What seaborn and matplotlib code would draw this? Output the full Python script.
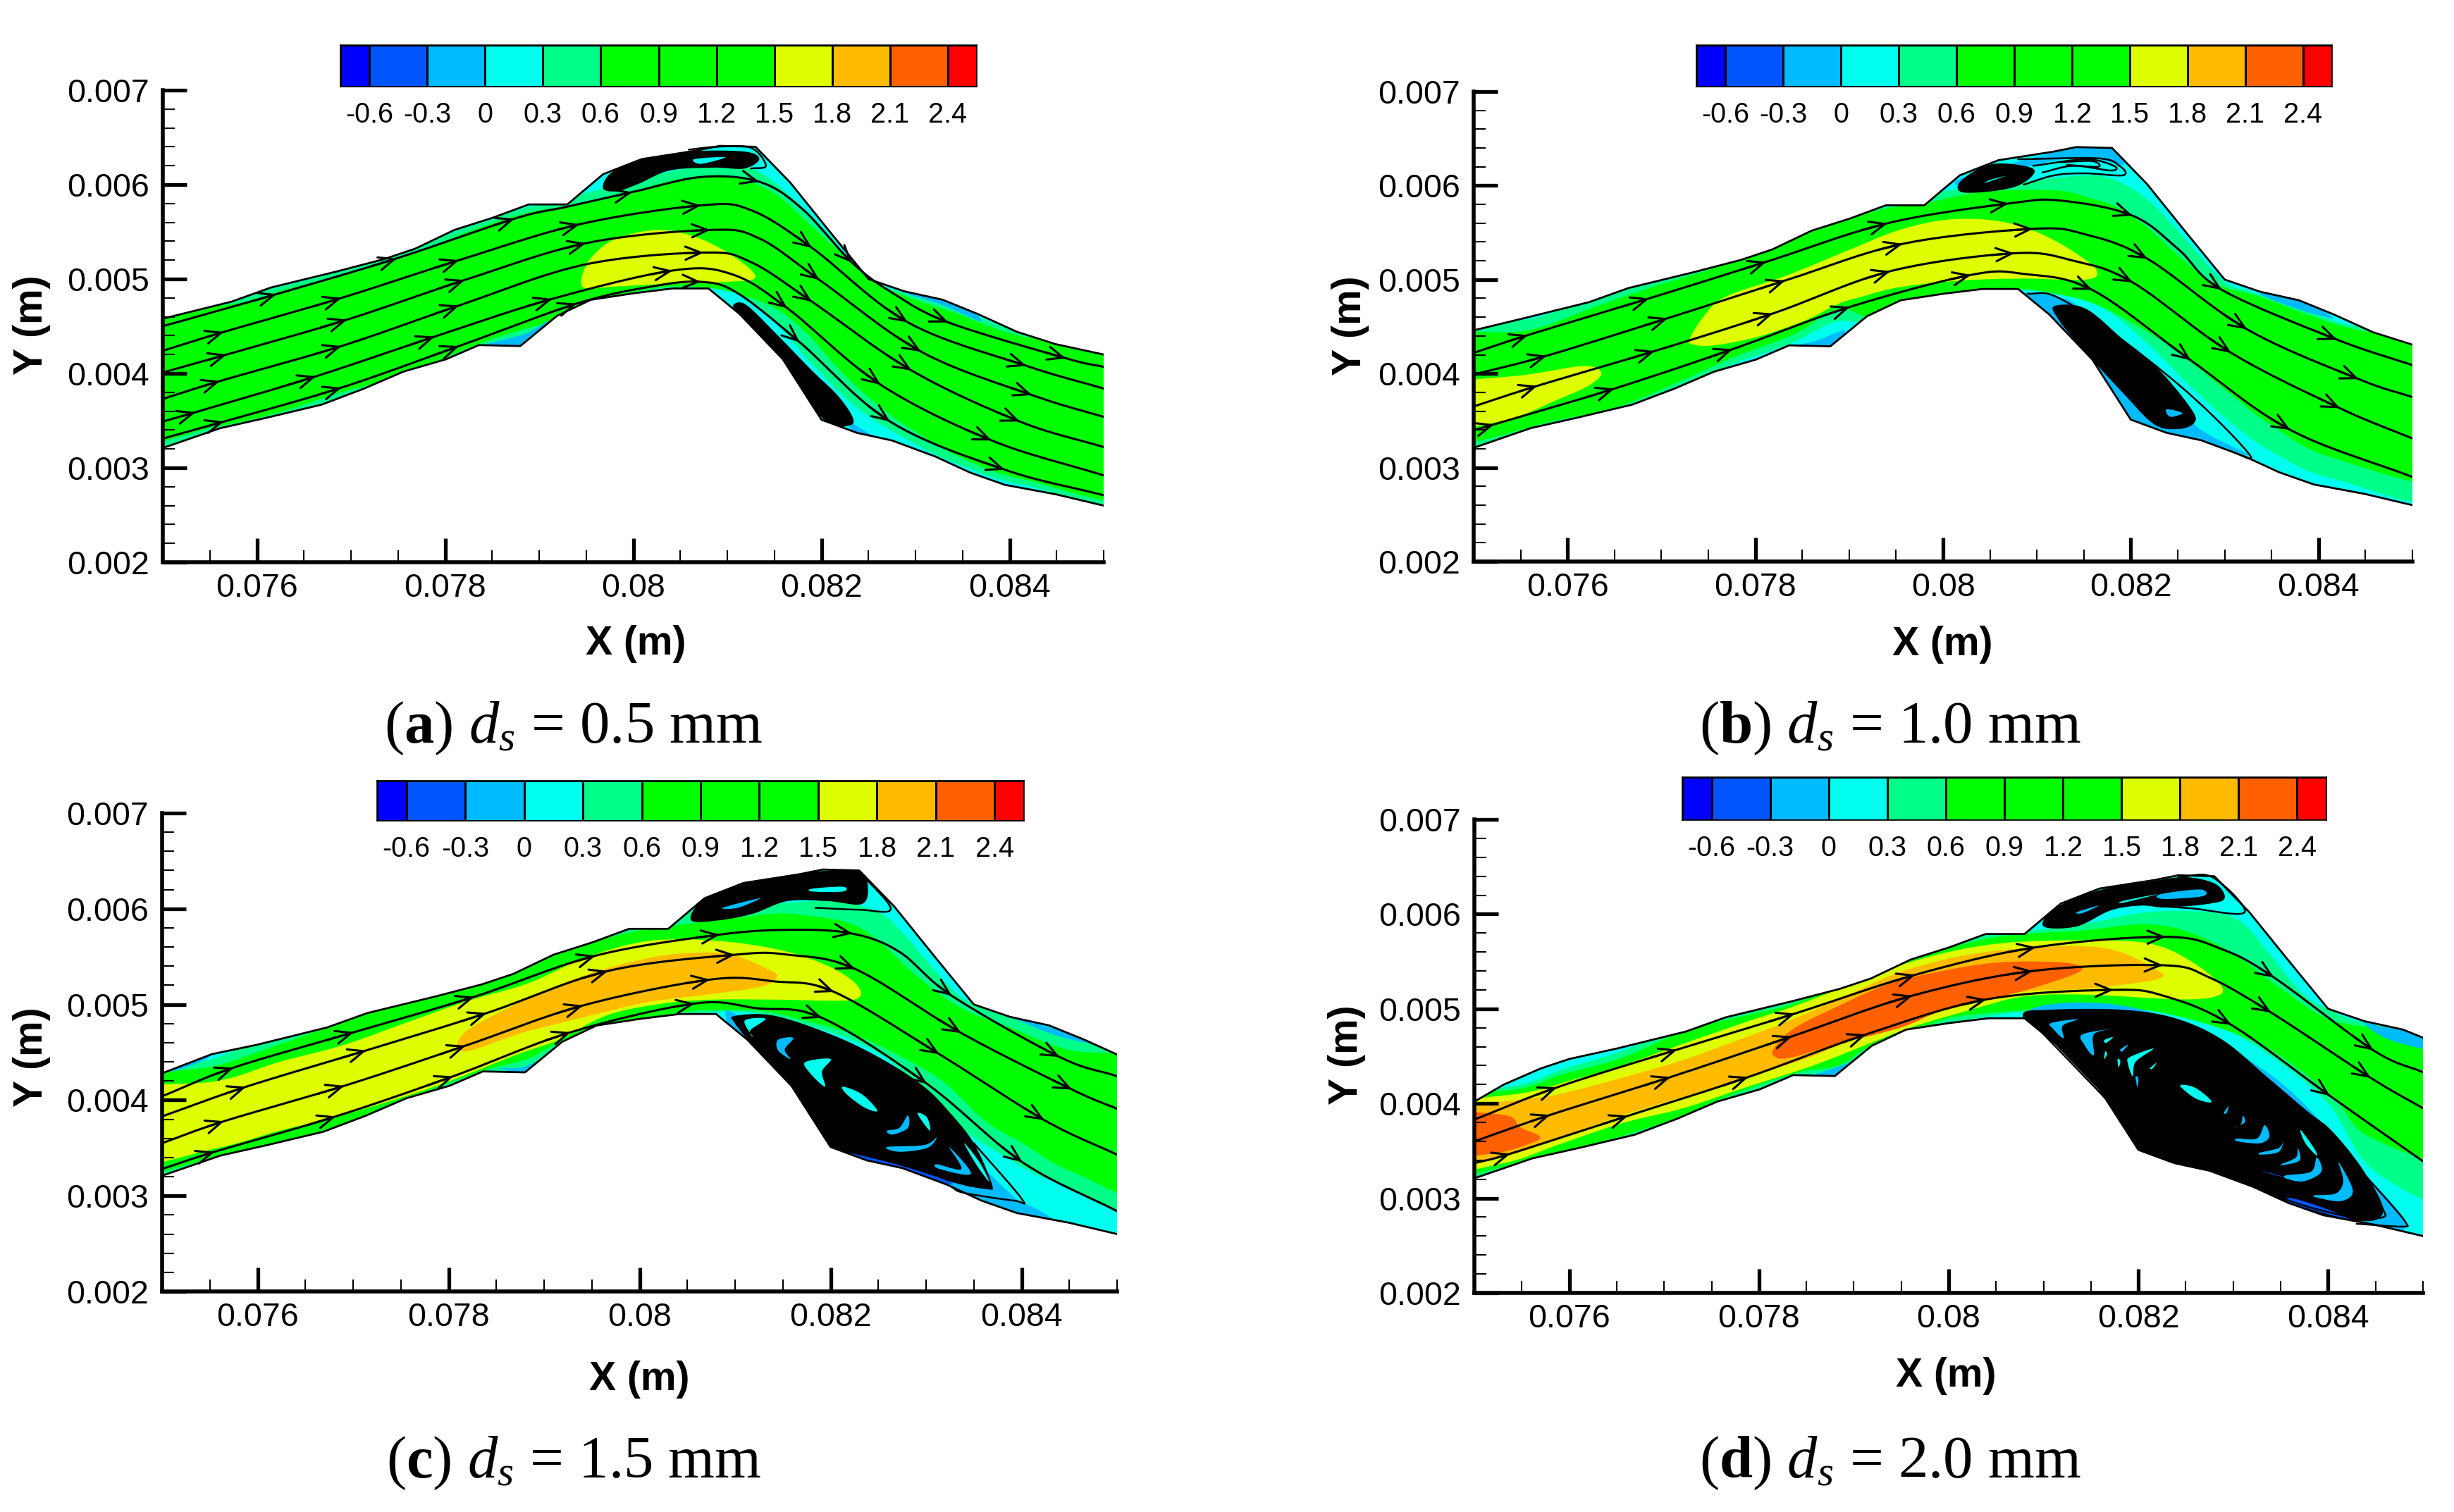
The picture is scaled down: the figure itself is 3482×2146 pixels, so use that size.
import numpy as np
import pandas as pd
import matplotlib
matplotlib.use("Agg")
import matplotlib.pyplot as plt
from matplotlib.colors import ListedColormap, BoundaryNorm
from matplotlib.ticker import MultipleLocator
from matplotlib.patches import Polygon
import seaborn as sns

# ---------------- data (all in mm) ----------------
LEVELS = [-0.75, -0.6, -0.3, 0, 0.3, 0.6, 0.9, 1.2, 1.5, 1.8, 2.1, 2.4, 2.55]
LEVEL_TICKS = [-0.6, -0.3, 0, 0.3, 0.6, 0.9, 1.2, 1.5, 1.8, 2.1, 2.4]
LEVEL_LABELS = ["-0.6", "-0.3", "0", "0.3", "0.6", "0.9", "1.2", "1.5", "1.8", "2.1", "2.4"]
BAND_COLORS = ["#0000ff", "#0055ff", "#00bbff", "#00ffee", "#00ff88", "#00ff00",
               "#00ff00", "#00ff00", "#ddff00", "#ffbb00", "#ff6000", "#ff0000"]
DBLUE, BLUE, CYAN, LIGHT, GREEN, YELLOW, ORANGE, RED = 1, 2, 3, 4, 5, 8, 9, 10

XTICKS = [0.076, 0.078, 0.08, 0.082, 0.084]
XTICK_LABELS = ["0.076", "0.078", "0.08", "0.082", "0.084"]
YTICKS = [0.002, 0.003, 0.004, 0.005, 0.006, 0.007]
YTICK_LABELS = ["0.002", "0.003", "0.004", "0.005", "0.006", "0.007"]

WALL_TOP = [(75.00, 4.58), (75.73, 4.76), (76.15, 4.91), (76.85, 5.08), (77.35, 5.21), (77.68, 5.32),
            (78.10, 5.52), (78.51, 5.65), (78.89, 5.79), (79.30, 5.79), (79.68, 6.11), (80.09, 6.27),
            (80.67, 6.36), (80.92, 6.41), (81.30, 6.40), (81.67, 6.02), (82.09, 5.50), (82.50, 5.00),
            (82.88, 4.87), (83.29, 4.78), (83.66, 4.63), (84.08, 4.44), (84.49, 4.31), (85.00, 4.20)]
WALL_BOT = [(75.00, 3.21), (75.61, 3.42), (76.10, 3.53), (76.69, 3.67), (77.14, 3.84), (77.56, 4.02),
            (78.01, 4.15), (78.36, 4.30), (78.80, 4.29), (79.19, 4.61), (79.55, 4.78), (80.01, 4.85),
            (80.42, 4.90), (80.80, 4.90), (81.13, 4.63), (81.59, 4.15), (82.00, 3.51), (82.38, 3.37),
            (82.75, 3.29), (83.21, 3.12), (83.58, 2.95), (83.95, 2.82), (84.49, 2.72), (85.00, 2.60)]
# the upper wall moves along the channel with d_s
WALL_SHIFT = [0.0, 0.5, 1.0, 1.5]
WALL_LEAD = [[], [(75, 4.46)], [(75, 4.28), (75.52, 4.48)], [(75, 4.02), (75.31, 4.20), (75.7, 4.37), (76.0, 4.47)]]

# Panel a
A_LIGHT = [(75, 4.56), (76.24, 4.92), (77.42, 5.24), (78.35, 5.60), (78.87, 5.76), (79.66, 5.95), (80.45, 6.15),
           (80.85, 6.20), (81.30, 6.15), (81.7, 5.85), (82.1, 5.45), (82.5, 5.0), (83.0, 4.82), (83.6, 4.62),
           (84.2, 4.42), (85, 4.18), (85, 2.66), (84.14, 2.82), (83.48, 3.03), (83.0, 3.25), (82.4, 3.62),
           (81.9, 4.1), (81.4, 4.65), (80.9, 4.9), (79.9, 4.82), (79.5, 4.72), (79.15, 4.45), (78.8, 4.34),
           (78.35, 4.22), (77.55, 3.88), (76.9, 3.70), (76.24, 3.50), (75.58, 3.36), (75, 3.23)]
A_GREEN = [(75, 4.51), (75.78, 4.74), (76.24, 4.87), (76.90, 5.05), (77.42, 5.19), (77.89, 5.36), (78.35, 5.54),
           (78.87, 5.70), (79.27, 5.77), (79.66, 5.85), (80.06, 5.95), (80.45, 6.05), (80.85, 6.10), (81.18, 6.05),
           (81.51, 5.90), (81.84, 5.61), (82.17, 5.31), (82.50, 5.01), (82.89, 4.82), (83.42, 4.64), (84.14, 4.39),
           (85, 4.14), (85, 2.70), (84.14, 2.88), (83.48, 3.11), (83.02, 3.37), (82.63, 3.64), (82.23, 4.00),
           (81.84, 4.43), (81.51, 4.69), (81.18, 4.82), (80.85, 4.90), (80.39, 4.92), (79.93, 4.85), (79.53, 4.77),
           (79.14, 4.56), (78.81, 4.46), (78.35, 4.31), (77.55, 3.98), (76.90, 3.80), (76.24, 3.59), (75.58, 3.44),
           (75, 3.29)]
A_YELLOW = [(79.45, 5.00), (79.55, 5.22), (79.80, 5.42), (80.25, 5.52), (80.65, 5.45), (81.05, 5.25),
            (81.30, 5.02), (81.00, 4.97), (80.40, 4.95), (79.80, 4.92), (79.50, 4.90)]
A_BLUE1 = [(78.36, 4.28), (78.9, 4.28), (79.1, 4.55), (78.85, 4.42)]
A_BLUE2 = [(82.9, 4.85), (83.3, 4.72), (83.7, 4.55), (83.5, 4.75), (83.2, 4.85)]
A_BLUE3 = [(82.3, 3.48), (82.6, 3.30), (82.35, 3.37)]
A_VORTEX_LOW = [(81.08, 4.74), (81.21, 4.72), (81.51, 4.43), (81.90, 4.03), (82.17, 3.77), (82.33, 3.54),
                (82.30, 3.45), (82.04, 3.50), (81.51, 4.10), (81.25, 4.46), (81.08, 4.66)]
A_VORTEX_UP = [(79.68, 5.96), (79.76, 6.12), (80.06, 6.26), (80.59, 6.35), (81.18, 6.35), (81.34, 6.27),
               (81.18, 6.17), (80.85, 6.18), (80.39, 6.15), (80.06, 6.01), (79.83, 5.93)]
A_ISLE = [(80.65, 6.27), (80.98, 6.29), (80.72, 6.22)]
A_LOOP = [(80.59, 6.37), (80.88, 6.40), (81.25, 6.39), (81.41, 6.20), (81.25, 6.17)]
A_S1 = [(75, 4.50), (76.21, 4.84), (77.49, 5.22), (78.74, 5.64), (79.27, 5.76), (79.99, 5.92), (80.72, 6.08),
        (81.34, 6.03), (81.80, 5.74), (82.33, 5.17), (82.76, 4.85), (83.35, 4.54), (84.60, 4.16), (85, 4.07)]
A_S2 = [(75, 4.24), (75.65, 4.44), (76.90, 4.80), (78.15, 5.20), (79.43, 5.58), (80.72, 5.78), (81.25, 5.73),
        (81.90, 5.33), (82.92, 4.54), (84.18, 4.08), (85, 3.84)]
A_S3 = [(75, 4.01), (75.68, 4.20), (76.96, 4.57), (78.21, 4.99), (79.50, 5.38), (80.82, 5.52), (81.34, 5.43),
        (81.98, 4.99), (83.06, 4.23), (84.24, 3.77), (85, 3.54)]
A_S4 = [(75, 3.73), (75.61, 3.92), (76.90, 4.29), (78.15, 4.72), (79.47, 5.15), (80.75, 5.28), (81.25, 5.18),
        (81.90, 4.76), (82.96, 4.03), (84.11, 3.49), (85, 3.22)]
A_S5 = [(75, 3.49), (75.35, 3.59), (76.63, 3.97), (77.89, 4.39), (79.14, 4.79), (80.42, 5.09), (81.05, 5.05),
        (81.64, 4.69), (82.63, 3.88), (83.81, 3.29), (85, 2.92)]
A_S6 = [(75, 3.31), (75.65, 3.49), (76.90, 3.85), (78.15, 4.29), (79.40, 4.74), (80.19, 4.92), (80.72, 4.97),
        (81.11, 4.85), (81.77, 4.33), (82.73, 3.49), (83.95, 2.98), (85, 2.71)]
A_ARROWS = [[1, 2, 3, 5, 7, 9, 11, 12], [1, 2, 3, 4, 5, 7, 8, 9], [1, 2, 3, 4, 5, 7, 8, 9],
            [1, 2, 3, 5, 7, 8, 9], [1, 2, 3, 4, 5, 7, 8, 9], [1, 2, 3, 4, 6, 8, 9, 10]]

# Panel b
B_LIGHT = [(75, 4.42), (75.6, 4.58), (76.24, 4.80), (76.9, 5.0), (77.56, 5.2), (78.22, 5.45), (78.6, 5.6),
           (79.0, 5.75), (79.4, 5.83), (79.8, 5.9), (80.4, 6.0), (80.86, 6.04), (81.52, 6.11), (81.85, 6.05),
           (82.18, 5.85), (82.5, 5.52), (82.97, 5.0), (83.24, 4.88), (83.77, 4.72), (84.3, 4.52), (85, 4.28),
           (85, 2.68), (84.16, 2.88), (83.5, 3.17), (83.04, 3.5), (82.6, 3.9), (82.2, 4.3), (81.7, 4.7), (81.2, 4.85),
           (80.5, 4.88), (79.5, 4.72), (79.2, 4.55), (78.85, 4.55), (78.4, 4.33), (77.76, 4.1), (77.23, 3.85),
           (76.57, 3.6), (75.91, 3.44), (75, 3.2)]
B_GREEN = [(75, 4.32), (75.58, 4.46), (76.24, 4.69), (76.90, 4.92), (77.56, 5.12), (78.22, 5.35), (78.62, 5.52),
           (79.01, 5.65), (79.41, 5.76), (79.80, 5.81), (80.40, 5.93), (81.19, 5.95), (81.59, 5.86), (81.85, 5.77),
           (82.18, 5.55), (82.58, 5.19), (82.91, 4.95), (83.37, 4.82), (83.90, 4.62), (84.43, 4.46), (85, 4.26),
           (85, 2.88), (84.16, 3.10), (83.50, 3.45), (83.04, 3.80), (82.51, 4.22), (82.05, 4.52), (81.59, 4.75),
           (81.19, 4.85), (80.86, 4.90), (80.40, 4.90), (79.60, 4.77), (79.21, 4.61), (78.88, 4.69), (78.42, 4.42),
           (77.76, 4.17), (77.23, 3.93), (76.57, 3.66), (75.91, 3.51), (75, 3.26)]
B_YELLOW1 = [(77.30, 4.37), (77.46, 4.62), (77.69, 4.82), (78.35, 5.05), (79.01, 5.32), (79.54, 5.53), (80.07, 5.64),
             (80.60, 5.62), (81.06, 5.48), (81.46, 5.25), (81.64, 5.09), (81.52, 5.00), (80.86, 5.01), (80.20, 4.99),
             (79.54, 4.92), (79.14, 4.82), (78.88, 4.74), (78.52, 4.56), (78.02, 4.39), (77.56, 4.30), (77.33, 4.31)]
B_YELLOW2 = [(75, 3.84), (75.58, 3.99), (76.17, 4.08), (76.36, 4.01), (76.24, 3.88), (75.91, 3.73), (75.32, 3.50),
             (75, 3.41)]
B_BLUE1 = [(78.42, 4.29), (78.82, 4.29), (78.95, 4.46), (78.65, 4.35)]
B_BLUE2 = [(83.37, 4.85), (83.77, 4.79), (84.16, 4.59), (83.77, 4.69)]
B_BLUE3 = [(80.86, 4.85), (81.19, 4.82), (81.52, 4.66), (82.31, 3.90), (82.71, 3.43), (83.27, 3.13), (82.84, 3.26),
           (82.38, 3.36), (81.98, 3.49), (81.52, 4.02), (81.06, 4.65)]
B_BLUE4 = [(80.2, 6.08), (81.39, 6.40), (81.79, 6.40), (81.92, 6.22), (81.5, 6.3), (80.9, 6.2), (80.3, 6.0)]
B_VORTEX_LOW = [(81.19, 4.72), (81.52, 4.69), (81.92, 4.36), (82.31, 4.03), (82.64, 3.63), (82.68, 3.48),
                (82.51, 3.41), (82.25, 3.46), (81.92, 3.79), (81.46, 4.29), (81.22, 4.59)]
B_VORTEX_UP = [(80.2, 5.93), (80.2, 6.06), (80.53, 6.23), (80.96, 6.18), (80.86, 6.03), (80.6, 5.95)]
B_ISLE1 = [(80.45, 6.03), (80.66, 6.10), (80.50, 6.06)]
B_ISLE2 = [(82.38, 3.62), (82.55, 3.58), (82.42, 3.54)]
B_LOOP1 = [(80.9, 4.85), (81.2, 4.82), (81.8, 4.44), (82.65, 3.76), (83.27, 3.13), (83.05, 3.18)]
B_LOOP2 = [(80.80, 6.28), (81.65, 6.29), (81.88, 6.21), (81.92, 6.11), (81.52, 6.13), (81.19, 6.11), (80.86, 6.01)]
B_LOOP3 = [(80.96, 6.21), (81.52, 6.28), (81.82, 6.21), (81.79, 6.16), (81.39, 6.21), (81.06, 6.14)]
B_LOOP4 = [(81.26, 6.25), (81.59, 6.26), (81.65, 6.20), (81.32, 6.22)]
B_S1 = [(75, 4.22), (75.58, 4.41), (76.87, 4.80), (78.12, 5.19), (79.41, 5.60), (80.70, 5.81), (81.26, 5.84),
        (82.02, 5.68), (82.51, 5.32), (82.97, 4.89), (84.20, 4.36), (85, 4.09)]
B_S2 = [(75, 3.99), (75.78, 4.19), (77.07, 4.59), (78.32, 4.99), (79.57, 5.38), (80.96, 5.54), (81.52, 5.48),
        (82.18, 5.22), (83.24, 4.47), (84.43, 3.94), (85, 3.75)]
B_S3 = [(75, 3.65), (75.68, 3.87), (76.93, 4.24), (78.19, 4.64), (79.44, 5.09), (80.76, 5.28), (81.39, 5.20),
        (82.02, 4.97), (83.07, 4.22), (84.23, 3.63), (85, 3.31)]
B_S4 = [(75, 3.40), (75.22, 3.46), (76.50, 3.84), (77.76, 4.26), (79.01, 4.71), (80.30, 5.05), (80.86, 5.06),
        (81.59, 4.89), (82.64, 4.14), (83.70, 3.40), (85, 2.90)]
B_ARROWS = [[1, 2, 3, 4, 5, 7, 9, 10], [1, 2, 3, 4, 5, 7, 8, 9], [1, 2, 3, 4, 5, 7, 8, 9], [1, 2, 3, 4, 5, 7, 8, 9]]

# Panel c
C_LIGHT = [(75, 4.22), (75.5, 4.42), (76.2, 4.72), (77.2, 5.02), (77.85, 5.19), (78.3, 5.35), (78.8, 5.55),
           (79.2, 5.68), (79.6, 5.80), (80, 5.88), (80.4, 5.95), (80.9, 6.0), (81.4, 6.05), (82.07, 6.08),
           (82.52, 5.95), (82.78, 5.72), (83.24, 5.19), (83.5, 5.0), (84.0, 4.83), (84.53, 4.63), (85, 4.38),
           (85, 2.79), (84.33, 3.15), (83.76, 3.45), (83.37, 3.71), (82.98, 4.10), (82.4, 4.55), (81.5, 4.85),
           (80.77, 4.92), (79.6, 4.72), (79.15, 4.45), (78.85, 4.35), (78.3, 4.22), (77.53, 3.92), (76.23, 3.49),
           (75.58, 3.36), (75, 3.18)]
C_GREEN = [(75, 4.13), (75.52, 4.35), (75.91, 4.47), (76.56, 4.70), (77.2, 4.93), (77.85, 5.09), (78.31, 5.22),
           (78.83, 5.42), (79.15, 5.55), (79.6, 5.68), (79.99, 5.77), (80.32, 5.82), (80.97, 5.90), (81.42, 5.95),
           (81.74, 5.93), (82.2, 5.85), (82.52, 5.65), (82.91, 5.29), (83.37, 4.96), (83.88, 4.76), (84.47, 4.53),
           (85, 4.30), (85, 2.97), (84.53, 3.25), (84.01, 3.55), (83.62, 3.78), (83.17, 4.20), (82.65, 4.50),
           (82.2, 4.70), (81.74, 4.83), (81.29, 4.93), (80.77, 4.94), (80.38, 4.91), (79.6, 4.76), (79.15, 4.60),
           (78.83, 4.43), (78.31, 4.29), (77.53, 3.99), (77.2, 3.81), (76.23, 3.55), (75.58, 3.41), (75, 3.22)]
C_YELLOW = [(75, 4.06), (75.58, 4.20), (76.23, 4.40), (76.88, 4.57), (77.53, 4.80), (78.18, 5.03), (78.83, 5.22),
            (79.34, 5.45), (79.86, 5.62), (80.32, 5.68), (80.97, 5.65), (81.55, 5.55), (82.0, 5.39), (82.26, 5.22),
            (82.31, 5.09), (82.13, 5.04), (81.42, 5.05), (80.77, 5.05), (80.25, 5.01), (79.67, 4.89), (79.15, 4.63),
            (78.70, 4.47), (77.85, 4.14), (76.88, 3.84), (76.23, 3.68), (75.58, 3.50), (75, 3.32)]
C_ORANGE = [(78.08, 4.58), (78.24, 4.76), (78.83, 5.06), (79.47, 5.32), (80.12, 5.49), (80.58, 5.54), (80.97, 5.52),
            (81.36, 5.36), (81.44, 5.29), (81.29, 5.19), (80.77, 5.11), (80.12, 5.03), (79.67, 4.93), (79.15, 4.80),
            (78.76, 4.70), (78.24, 4.52), (78.11, 4.53)]
C_BLUE1 = [(83.37, 3.03), (84.0, 2.80), (84.33, 2.75), (83.95, 2.95)]
C_BLUE2 = [(83.95, 4.85), (84.3, 4.76), (85, 4.45), (84.53, 4.63), (84.14, 4.76)]
C_BLUE3 = [(75, 4.30), (75.5, 4.48), (75.1, 4.30)]
C_BLUE4 = [(78.53, 4.33), (78.83, 4.29), (78.99, 4.43), (78.76, 4.34)]
C_BLUE5 = [(80.9, 4.9), (81.1, 4.85), (82.0, 4.3), (83.0, 3.8), (83.8, 3.1), (84.0, 2.85), (83.4, 3.0), (82.0, 3.45),
           (81.1, 4.5)]
C_VORTEX_LOW = [(81.00, 4.88), (81.42, 4.88), (82.07, 4.66), (82.59, 4.40), (82.98, 4.14), (83.24, 3.88), (83.50, 3.55),
                (83.69, 3.12), (83.63, 3.07), (83.24, 3.15), (82.85, 3.27), (82.39, 3.37), (82.00, 3.51), (81.61, 3.94),
                (81.23, 4.50), (81.00, 4.80)]
C_VORTEX_UP = [(80.54, 5.88), (80.67, 6.10), (81.10, 6.27), (81.87, 6.39), (82.30, 6.39), (82.39, 6.24), (82.33, 6.05),
               (81.97, 6.08), (81.55, 6.08), (81.19, 5.95), (80.84, 5.88)]
C_I1 = [(82.13, 4.14), (82.33, 4.06), (82.49, 3.89), (82.36, 3.92), (82.17, 4.06)]
C_I2 = [(81.74, 4.40), (82.00, 4.43), (81.91, 4.30), (81.94, 4.14), (81.77, 4.30)]
C_I3 = [(81.45, 4.63), (81.61, 4.65), (81.52, 4.53), (81.58, 4.43), (81.45, 4.52)]
C_I4 = [(81.10, 4.83), (81.32, 4.85), (81.16, 4.73), (81.19, 4.66)]
C_I5 = [(82.59, 3.68), (82.72, 3.71), (82.81, 3.84), (82.81, 3.71), (82.65, 3.64)]
C_I6 = [(82.59, 3.51), (82.98, 3.53), (83.11, 3.61), (83.01, 3.50), (82.72, 3.46)]
C_I7 = [(82.91, 3.86), (83.04, 3.68), (83.01, 3.82)]
C_I8 = [(83.11, 3.33), (83.37, 3.28), (83.24, 3.51), (83.47, 3.23), (83.14, 3.28)]
C_I9 = [(83.40, 3.55), (83.56, 3.35), (83.66, 3.15), (83.53, 3.32)]
C_I10 = [(82.17, 3.45), (82.72, 3.32), (83.24, 3.15), (83.17, 3.13), (82.59, 3.29)]
C_I11 = [(80.87, 6.01), (81.26, 6.11), (81.03, 6.01)]
C_I12 = [(81.81, 6.21), (82.13, 6.23), (82.13, 6.18), (81.81, 6.18)]
C_LOOP1 = [(83.50, 3.55), (84.00, 2.97), (83.92, 2.95), (83.40, 3.03), (83.27, 3.09)]
C_LOOP2 = [(82.30, 6.39), (82.63, 6.00), (82.30, 5.99), (81.84, 6.01)]
C_LOOP3 = [(81.0, 4.85), (81.35, 4.45), (81.75, 3.95), (82.1, 3.55), (82.7, 3.36), (83.4, 3.12), (83.65, 3.10)]
C_S1 = [(75, 4.04), (75.75, 4.34), (77.01, 4.71), (78.27, 5.08), (79.54, 5.51), (80.84, 5.73), (81.61, 5.78),
        (82.23, 5.74), (82.72, 5.55), (83.27, 5.09), (84.40, 4.45), (85, 4.25)]
C_S2 = [(75, 3.83), (75.88, 4.14), (77.14, 4.52), (78.40, 4.91), (79.67, 5.35), (81.0, 5.52), (81.55, 5.52),
        (82.26, 5.37), (83.37, 4.70), (84.53, 4.11), (85, 3.91)]
C_S3 = [(75, 3.55), (75.65, 3.78), (76.91, 4.15), (78.18, 4.57), (79.41, 4.99), (80.74, 5.26), (81.42, 5.24),
        (82.04, 5.13), (83.14, 4.48), (84.24, 3.79), (85, 3.43)]
C_S4 = [(75, 3.28), (75.55, 3.46), (76.82, 3.83), (78.05, 4.25), (79.28, 4.71), (80.58, 5.01), (81.23, 4.96),
        (81.91, 4.86), (83.01, 4.17), (84.01, 3.35), (85, 2.84)]
C_ARROWS = [[1, 2, 3, 4, 5, 7, 9, 10], [1, 2, 3, 4, 5, 7, 8, 9], [1, 2, 3, 4, 5, 7, 8, 9], [1, 2, 3, 4, 5, 7, 8, 9]]

# Panel d
D_LIGHT = [(75, 3.98), (75.5, 4.2), (75.9, 4.35), (76.55, 4.55), (77.2, 4.82), (77.86, 5.0), (78.38, 5.15), (78.97, 5.4),
           (79.36, 5.55), (79.88, 5.72), (80.3, 5.83), (80.79, 5.82), (81.44, 5.9), (82.1, 6.02), (82.75, 6.02),
           (83.08, 5.92), (83.34, 5.63), (83.73, 5.16), (83.99, 5.0), (84.38, 4.85), (85, 4.63), (85, 2.97),
           (84.51, 3.27), (84.0, 4.0), (83.4, 4.5), (82.75, 4.85), (81.97, 5.0), (81.12, 4.98), (80.47, 4.93),
           (79.55, 4.73), (79.2, 4.5), (78.84, 4.35), (78.38, 4.28), (77.6, 4.0), (77.14, 3.8), (76.36, 3.55),
           (75.57, 3.36), (75, 3.18)]
D_GREEN = [(75, 3.97), (75.5, 4.16), (75.9, 4.3), (76.55, 4.48), (77.2, 4.76), (77.86, 4.93), (78.38, 5.06), (78.97, 5.33),
           (79.36, 5.46), (79.88, 5.61), (80.4, 5.74), (80.79, 5.79), (81.44, 5.83), (81.97, 5.89), (82.36, 5.86),
           (82.75, 5.72), (83.08, 5.53), (83.40, 5.29), (83.92, 4.93), (84.25, 4.83), (85, 4.58), (85, 3.39), (84.45, 3.64),
           (84.05, 4.07), (83.40, 4.56), (82.75, 4.83), (81.97, 5.0), (81.12, 5.0), (80.47, 4.96), (80.0, 4.90),
           (79.62, 4.76), (79.16, 4.60), (78.84, 4.40), (78.38, 4.32), (77.6, 4.05), (77.14, 3.85), (76.36, 3.60),
           (75.57, 3.40), (75, 3.22)]
D_YELLOW = [(75, 3.92), (75.57, 4.12), (75.97, 4.23), (76.55, 4.40), (77.2, 4.63), (77.86, 4.86), (78.38, 5.03),
            (78.97, 5.26), (79.49, 5.46), (80.14, 5.63), (80.79, 5.71), (81.77, 5.72), (82.23, 5.66), (82.62, 5.46),
            (82.88, 5.23), (82.81, 5.13), (82.42, 5.10), (81.44, 5.15), (80.79, 5.13), (80.27, 5.0), (79.62, 4.81),
            (79.23, 4.66), (78.57, 4.40), (77.86, 4.17), (77.20, 3.95), (76.55, 3.79), (75.9, 3.57), (75.31, 3.37), (75, 3.29)]
D_ORANGE = [(75, 3.88), (75.57, 4.05), (75.9, 4.10), (76.55, 4.27), (77.2, 4.46), (77.86, 4.70), (78.38, 4.90), (78.97, 5.16),
            (79.49, 5.39), (80.14, 5.56), (80.79, 5.64), (81.44, 5.66), (81.84, 5.59), (82.23, 5.39), (82.24, 5.33),
            (82.03, 5.28), (81.44, 5.21), (80.79, 5.18), (80.14, 5.06), (79.62, 4.90), (79.10, 4.73), (78.57, 4.50),
            (77.86, 4.27), (77.20, 4.07), (76.55, 3.87), (75.9, 3.64), (75.31, 3.44), (75, 3.35)]
D_RED1 = [(78.15, 4.51), (78.18, 4.61), (78.38, 4.80), (78.84, 5.03), (79.36, 5.26), (79.88, 5.39), (80.53, 5.49),
          (81.18, 5.49), (81.40, 5.44), (81.31, 5.36), (80.79, 5.19), (80.27, 5.06), (79.88, 4.96), (79.49, 4.80),
          (78.84, 4.63), (78.31, 4.48)]
D_RED2 = [(75, 3.88), (75.31, 3.88), (75.48, 3.75), (75.69, 3.65), (75.57, 3.57), (75.18, 3.47), (75, 3.45)]
D_BLUE1 = [(75, 4.04), (75.31, 4.2), (75.7, 4.37), (76.0, 4.47), (75.7, 4.47), (75.3, 4.3)]
D_BLUE2 = [(84.38, 4.85), (84.64, 4.8), (85, 4.7), (85, 4.5), (84.71, 4.65)]
D_BLUE3 = [(78.6, 4.30), (78.8, 4.28), (78.97, 4.43), (78.75, 4.36)]
D_BLUE5 = [(80.8, 4.95), (82, 5.0), (83.4, 4.3), (84.4, 3.25), (84.82, 2.71), (84.3, 2.73), (82, 3.45), (81.4, 4.2)]
D_VORTEX_LOW = [(80.78, 4.93), (81.06, 4.99), (81.83, 4.99), (82.39, 4.90), (82.89, 4.67), (83.38, 4.26), (83.78, 3.92),
                (84.05, 3.70), (84.38, 3.28), (84.58, 2.86), (84.31, 2.76), (83.55, 2.94), (82.72, 3.28), (82.32, 3.38),
                (81.96, 3.50), (81.40, 4.22), (81.06, 4.59)]
D_VORTEX_UP = [(81.0, 5.87), (81.12, 6.06), (81.58, 6.25), (82.10, 6.34), (82.49, 6.39), (82.81, 6.32), (82.91, 6.17),
               (82.75, 6.11), (82.29, 6.07), (82.03, 6.09), (81.71, 6.04), (81.35, 5.87)]
D_I0 = [(82.44, 4.19), (82.59, 4.17), (82.75, 4.05), (82.75, 4.01), (82.59, 4.06)]
D_I1 = [(81.08, 4.85), (81.36, 4.89), (81.20, 4.82), (81.21, 4.69), (81.10, 4.79)]
D_I2 = [(81.41, 4.73), (81.74, 4.79), (81.53, 4.73), (81.53, 4.51), (81.43, 4.62)]
D_I3 = [(81.91, 4.49), (82.16, 4.58), (81.97, 4.44), (81.94, 4.29), (81.89, 4.42)]
D_I4 = [(83.04, 3.63), (83.25, 3.63), (83.33, 3.77), (83.38, 3.65), (83.28, 3.58), (83.05, 3.60)]
D_I5 = [(83.28, 3.48), (83.48, 3.53), (83.53, 3.61), (83.48, 3.49), (83.30, 3.46)]
D_I6 = [(83.51, 3.36), (83.66, 3.43), (83.68, 3.53), (83.70, 3.40), (83.53, 3.35)]
D_I7 = [(83.55, 3.24), (83.82, 3.28), (83.88, 3.43), (83.93, 3.28), (83.75, 3.18), (83.58, 3.20)]
D_I8 = [(83.85, 3.03), (84.08, 3.05), (84.16, 3.18), (84.11, 3.38), (84.26, 3.08), (84.14, 2.97), (83.91, 3.00)]
D_I9 = [(83.71, 3.72), (83.85, 3.53), (83.88, 3.45), (83.76, 3.58)]
D_I10 = [(83.30, 3.29), (83.55, 3.22), (83.42, 3.25)]
D_I11 = [(83.60, 2.95), (84.20, 2.78), (84.00, 2.88), (83.62, 3.00)]
D_I12 = [(81.35, 6.02), (81.58, 6.09), (81.41, 6.01)]
D_I13 = [(82.23, 6.21), (82.65, 6.26), (82.68, 6.19), (82.26, 6.16)]
D_I14 = [(81.84, 6.14), (82.2, 6.21), (81.84, 6.12)]
D_T1 = [(81.64, 4.67), (81.73, 4.70), (81.66, 4.64)]
D_T2 = [(81.81, 4.57), (81.89, 4.62), (81.83, 4.55)]
D_T3 = [(81.65, 4.55), (81.64, 4.47), (81.67, 4.52)]
D_T4 = [(81.78, 4.47), (81.79, 4.38), (81.81, 4.45)]
D_T5 = [(81.97, 4.28), (81.99, 4.17), (82.0, 4.27)]
D_T6 = [(82.12, 4.37), (82.19, 4.43), (82.15, 4.37)]
D_T7 = [(82.9, 3.90), (82.95, 3.97), (82.93, 3.90)]
D_T8 = [(83.1, 3.87), (83.12, 3.80), (83.0, 3.74), (83.08, 3.78)]
D_LOOP1 = [(84.38, 3.25), (84.65, 2.95), (84.82, 2.74), (84.78, 2.70), (84.3, 2.73)]
D_LOOP2 = [(84.42, 3.18), (84.58, 2.88), (84.58, 2.80), (84.33, 2.78)]
D_LOOP3 = [(82.42, 6.39), (82.78, 6.39), (83.12, 6.02), (82.57, 6.06), (82.29, 6.08)]
D_LOOP4 = [(80.82, 4.92), (81.3, 4.42), (81.75, 3.95), (82.1, 3.56), (82.7, 3.36), (83.6, 2.97), (84.3, 2.78)]
D_S1 = [(75, 3.83), (75.87, 4.17), (77.14, 4.57), (78.38, 4.95), (79.65, 5.36), (80.92, 5.65), (82.29, 5.76),
        (82.88, 5.63), (83.43, 5.33), (84.48, 4.56), (85, 4.33)]
D_S2 = [(75, 3.60), (75.80, 3.88), (77.07, 4.28), (78.35, 4.71), (79.62, 5.14), (80.89, 5.40), (82.26, 5.46),
        (82.75, 5.33), (83.40, 4.96), (84.45, 4.27), (85, 3.95)]
D_S3 = [(75, 3.37), (75.38, 3.47), (76.62, 3.87), (77.89, 4.28), (79.13, 4.73), (80.40, 5.10), (81.74, 5.20),
        (82.29, 5.13), (82.98, 4.83), (84.02, 4.08), (85, 3.39)]
D_ARROWS = [[1, 2, 3, 4, 5, 6, 8, 9], [1, 2, 3, 4, 5, 6, 8, 9], [1, 2, 3, 4, 5, 6, 8, 9]]

CAPTION_LETTERS = ["a", "b", "c", "d"]
CAPTION_VALUES = ["0.5", "1.0", "1.5", "2.0"]

# ---------------- panel assembly ----------------
PANELS = [
    dict(regions=[(LIGHT, A_LIGHT), (GREEN, A_GREEN), (YELLOW, A_YELLOW), (BLUE, A_BLUE1), (BLUE, A_BLUE2), (BLUE, A_BLUE3)],
         vortices=[A_VORTEX_LOW, A_VORTEX_UP], isles=[(CYAN, A_ISLE)], loops=[A_LOOP],
         streams=[A_S1, A_S2, A_S3, A_S4, A_S5, A_S6], arrows=A_ARROWS),
    dict(regions=[(LIGHT, B_LIGHT), (BLUE, B_BLUE3), (BLUE, B_BLUE4), (GREEN, B_GREEN), (YELLOW, B_YELLOW1), (YELLOW, B_YELLOW2),
                  (BLUE, B_BLUE1), (BLUE, B_BLUE2)],
         vortices=[B_VORTEX_LOW, B_VORTEX_UP], isles=[(CYAN, B_ISLE1), (BLUE, B_ISLE2)],
         loops=[B_LOOP1, B_LOOP2, B_LOOP3, B_LOOP4],
         streams=[B_S1, B_S2, B_S3, B_S4], arrows=B_ARROWS),
    dict(regions=[(LIGHT, C_LIGHT), (GREEN, C_GREEN), (YELLOW, C_YELLOW), (ORANGE, C_ORANGE), (BLUE, C_BLUE1), (BLUE, C_BLUE2),
                  (BLUE, C_BLUE3), (BLUE, C_BLUE4), (BLUE, C_BLUE5)],
         vortices=[C_VORTEX_LOW, C_VORTEX_UP],
         isles=[(CYAN, C_I1), (CYAN, C_I2), (BLUE, C_I3), (CYAN, C_I4), (BLUE, C_I5), (BLUE, C_I6), (CYAN, C_I7), (BLUE, C_I8),
                (CYAN, C_I9), (DBLUE, C_I10), (BLUE, C_I11), (CYAN, C_I12)],
         loops=[C_LOOP1, C_LOOP2, C_LOOP3],
         streams=[C_S1, C_S2, C_S3, C_S4], arrows=C_ARROWS),
    dict(regions=[(LIGHT, D_LIGHT), (GREEN, D_GREEN), (YELLOW, D_YELLOW), (ORANGE, D_ORANGE), (RED, D_RED1), (RED, D_RED2),
                  (BLUE, D_BLUE1), (BLUE, D_BLUE2), (BLUE, D_BLUE3), (BLUE, D_BLUE5)],
         vortices=[D_VORTEX_LOW, D_VORTEX_UP],
         isles=[(CYAN, D_I0), (BLUE, D_I1), (BLUE, D_I2), (CYAN, D_I3), (BLUE, D_I4), (BLUE, D_I5), (BLUE, D_I6), (BLUE, D_I7),
                (BLUE, D_I8), (CYAN, D_I9), (DBLUE, D_I10), (DBLUE, D_I11), (BLUE, D_I12), (BLUE, D_I13), (CYAN, D_I14),
                (CYAN, D_T1), (BLUE, D_T2), (CYAN, D_T3), (CYAN, D_T4), (BLUE, D_T5), (CYAN, D_T6), (BLUE, D_T7), (BLUE, D_T8)],
         loops=[D_LOOP1, D_LOOP2, D_LOOP3, D_LOOP4],
         streams=[D_S1, D_S2, D_S3], arrows=D_ARROWS),
]

# ---------------- layout (pixels) ----------------
W, H = 3482, 2146
AXES_BOX = [(231, 128, 1566, 798), (2091, 130, 3423, 797), (230, 1154, 1585, 1833), (2092, 1163, 3438, 1835)]
CBAR_BOX = [(483, 64, 1386, 123), (2407, 64, 3309, 123), (535, 1108, 1453, 1165), (2387, 1103, 3301, 1164)]
XLABEL_POS = [(902, 914), (2756, 915), (907, 1958), (2761, 1953)]
YLABEL_POS = [(45, 461), (1916, 462), (45, 1500), (1911, 1497)]
CAPTION_POS = [(814, 1034), (2682, 1034), (814, 2077), (2682, 2077)]
MM = 1e-3

sns.set_theme(style="white")
plt.rcParams["font.family"] = ["Liberation Sans", "DejaVu Sans"]
plt.rcParams["mathtext.fontset"] = "custom"
plt.rcParams["mathtext.rm"] = "Liberation Serif"
plt.rcParams["mathtext.it"] = "Liberation Serif:italic"
plt.rcParams["mathtext.bf"] = "Liberation Serif:bold"


def spline(pts, closed=False, n=14):
    """Catmull-Rom curve through the read points (drawing smoothness only)."""
    p = np.asarray(pts, float)
    if closed:
        q = np.vstack([p[-1], p, p[0], p[1]])
    else:
        q = np.vstack([2 * p[0] - p[1], p, 2 * p[-1] - p[-2]])
    t = np.linspace(0, 1, n, endpoint=False)[:, None]
    out = []
    for i in range(len(q) - 3):
        a, b, c, d = q[i:i + 4]
        out.append(0.5 * (2 * b + (c - a) * t + (2 * a - 5 * b + 4 * c - d) * t ** 2 + (3 * b - a - 3 * c + d) * t ** 3))
    out = np.vstack(out)
    if not closed:
        out = np.vstack([out, p[-1]])
    return out


def fill_region(ax, pts, color, clip, z):
    p = np.array(pts, float)
    p[p[:, 0] <= 75.0, 0] = 74.5
    p[p[:, 0] >= 85.0, 0] = 85.5
    c = spline(p, closed=True) * MM
    for patch in ax.fill(c[:, 0], c[:, 1], color=color, lw=0, zorder=z):
        patch.set_clip_path(clip)


def draw_line(ax, curve, lw, z):
    df = pd.DataFrame({"x": curve[:, 0] * MM, "y": curve[:, 1] * MM})
    sns.lineplot(data=df, x="x", y="y", sort=False, estimator=None, color="black", lw=lw, zorder=z, ax=ax, legend=False)


fig = plt.figure(figsize=(W / 100, H / 100), dpi=100)
fig.patch.set_facecolor("white")
cmap = ListedColormap(BAND_COLORS)
norm = BoundaryNorm(LEVELS, cmap.N)

for k, panel in enumerate(PANELS):
    x0, y0, x1, y1 = AXES_BOX[k]
    ax = fig.add_axes([x0 / W, 1 - y1 / H, (x1 - x0) / W, (y1 - y0) / H])
    ax.set_facecolor("white")

    wall_t = np.array(WALL_LEAD[k] + [(x + WALL_SHIFT[k], y) for x, y in WALL_TOP])
    wall_b = np.array(WALL_BOT)
    outline = np.vstack([wall_t, wall_b[::-1]]) * MM
    channel = Polygon(outline, closed=True, facecolor=BAND_COLORS[CYAN], edgecolor="none", zorder=1)
    ax.add_patch(channel)
    for j, (band, pts) in enumerate(panel["regions"]):
        fill_region(ax, pts, BAND_COLORS[band], channel, 1.1 + j * 0.01)
    for pts in panel["vortices"]:
        fill_region(ax, pts, "black", channel, 1.5)
    for j, (band, pts) in enumerate(panel["isles"]):
        fill_region(ax, pts, BAND_COLORS[band], channel, 1.6 + j * 0.001)
    for pts in panel["loops"]:
        draw_line(ax, spline(pts), 1.8, 1.8)

    draw_line(ax, wall_t, 2.0, 1.9)
    draw_line(ax, wall_b, 2.0, 1.9)

    ax.set_xlim(0.075, 0.085)
    ax.set_ylim(0.002, 0.007)

    n = 14
    for pts, arrows in zip(panel["streams"], panel["arrows"]):
        curve = spline(pts, n=n)
        draw_line(ax, curve, 2.2, 2)
        for i in arrows:
            tip = curve[i * n] * MM
            tail = curve[i * n - 3] * MM
            ax.annotate("", xy=tip, xytext=tail, annotation_clip=False, zorder=2.1,
                        arrowprops=dict(arrowstyle="->,head_length=1.0,head_width=0.42", mutation_scale=16,
                                        lw=2.2, color="black", shrinkA=0, shrinkB=0))

    ax.set_xlim(0.075, 0.085)
    ax.set_ylim(0.002, 0.007)
    ax.set_xlabel("")
    ax.set_ylabel("")
    ax.set_xticks(XTICKS)
    ax.set_xticklabels(XTICK_LABELS)
    ax.set_yticks(YTICKS)
    ax.set_yticklabels(YTICK_LABELS)
    ax.xaxis.set_minor_locator(MultipleLocator(0.0005))
    ax.yaxis.set_minor_locator(MultipleLocator(0.0002))
    ax.set_axisbelow(False)
    ax.tick_params(which="major", direction="in", length=24.5, width=3.8, labelsize=33.5, color="black",
                   labelcolor="black", bottom=True, left=True, top=False, right=False)
    ax.tick_params(axis="x", which="major", pad=11)
    ax.tick_params(axis="y", which="major", pad=14)
    ax.tick_params(which="minor", direction="in", length=12, width=1.5, color="black",
                   bottom=True, left=True, top=False, right=False)
    for name, sp in ax.spines.items():
        sp.set_visible(name in ("left", "bottom"))
        sp.set_linewidth(4.0)
        sp.set_color("black")
        sp.set_zorder(5)

    # colour bar
    bx0, by0, bx1, by1 = CBAR_BOX[k]
    cax = fig.add_axes([bx0 / W, 1 - by1 / H, (bx1 - bx0) / W, (by1 - by0) / H])
    mids = (np.array(LEVELS[:-1]) + np.array(LEVELS[1:])) / 2
    cax.pcolormesh(LEVELS, [0, 1], mids[None, :], cmap=cmap, norm=norm, edgecolors="black", linewidth=1.0)
    cax.set_yticks([])
    cax.set_xticks(LEVEL_TICKS)
    cax.set_xticklabels(LEVEL_LABELS)
    cax.tick_params(axis="x", length=0, pad=15, labelsize=28.5, labelcolor="black")
    for sp in cax.spines.values():
        sp.set_linewidth(1.2)
        sp.set_color("black")

    fig.text(XLABEL_POS[k][0] / W, 1 - XLABEL_POS[k][1] / H, "X (m)", ha="center", va="center",
             fontsize=41, fontweight="bold", color="black")
    fig.text(YLABEL_POS[k][0] / W, 1 - YLABEL_POS[k][1] / H, "Y (m)", ha="center", va="center", rotation=90,
             fontsize=41, fontweight="bold", color="black")
    caption = "($\\mathbf{%s}$) $\\mathit{d}_{\\mathit{s}}$ = %s mm" % (CAPTION_LETTERS[k], CAPTION_VALUES[k])
    fig.text(CAPTION_POS[k][0] / W, 1 - CAPTION_POS[k][1] / H, caption, ha="center", va="center",
             fontsize=61, family="Liberation Serif", color="black")

fig.savefig("out.png", dpi=100, facecolor="white")
